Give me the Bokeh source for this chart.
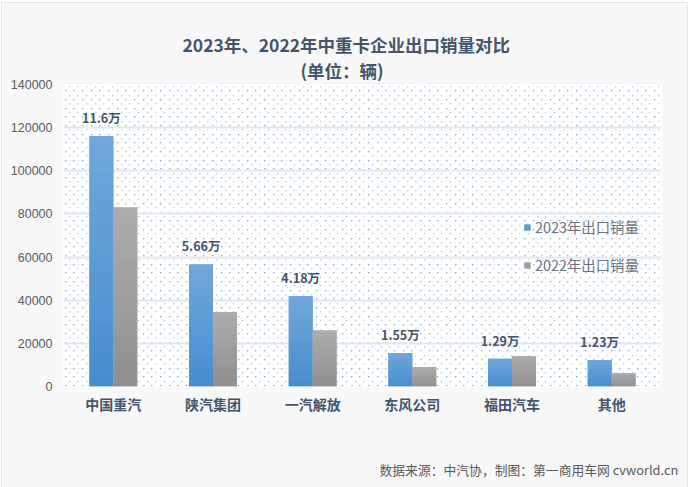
import base64, struct, zlib
from bokeh.core.properties import value
from bokeh.embed import file_html
from bokeh.resources import INLINE
from bokeh.plotting import figure
from bokeh.models import (BoxAnnotation, ColumnDataSource, FactorRange, ImageURLTexture,
                          LabelSet, Legend, LegendItem, Range1d, Title, FixedTicker)
from bokeh.transform import dodge

categories = ["中国重汽", "陕汽集团", "一汽解放", "东风公司", "福田汽车", "其他"]
series_2023 = [116000, 56600, 41800, 15500, 12900, 12300]
series_2022 = [83000, 34500, 26000, 9000, 14000, 6200]
labels_2023 = ["11.6万", "5.66万", "4.18万", "1.55万", "1.29万", "1.23万"]
y_ticks = [0, 20000, 40000, 60000, 80000, 100000, 120000, 140000]

CJK = "Noto Sans CJK SC"
W = 0.24

def dot_tile():
    size = 26
    px = [[(255, 255, 255, 0)] * size for _ in range(size)]
    rows = [1, 5, 9, 14, 18, 22]
    for r, y in enumerate(rows):
        strong = r % 2 == 0
        a0, a1 = (215, 90) if strong else (130, 55)
        for x in ([2, 11, 19] if r % 2 == 0 else [6, 15, 23]):
            px[y][x] = (105, 165, 228, a0)
            px[y][x + 1] = (105, 165, 228, a1)
            px[y + 1][x] = (105, 165, 228, a1)
    raw = b"".join(b"\x00" + bytes(c for p_ in row for c in p_) for row in px)
    def chunk(t, d):
        return struct.pack(">I", len(d)) + t + d + struct.pack(">I", zlib.crc32(t + d) & 0xffffffff)
    png = (b"\x89PNG\r\n\x1a\n" + chunk(b"IHDR", struct.pack(">IIBBBBB", size, size, 8, 6, 0, 0, 0))
           + chunk(b"IDAT", zlib.compress(raw)) + chunk(b"IEND", b""))
    return "data:image/png;base64," + base64.b64encode(png).decode()

p = figure(width=685, height=479, output_backend="svg", toolbar_location=None,
           x_range=FactorRange(factors=categories, range_padding=0),
           y_range=Range1d(0, 140000),
           frame_width=598, frame_height=302,
           min_border_left=61, min_border_right=26, min_border_top=81, min_border_bottom=96,
           background_fill_color="#ffffff", border_fill_color="#f8f8f8",
           outline_line_color=None)
p.styles = {"position": "absolute", "left": "2px", "top": "3px",
            "outline": "1.5px solid #dfe6ed"}

p.add_layout(BoxAnnotation(fill_alpha=0, line_alpha=0, hatch_pattern="tile",
                           hatch_extra={"tile": ImageURLTexture(url=dot_tile())},
                           hatch_color="#5b9bd5", level="image"))

p.add_layout(Title(text="(单位：辆)", align="left", offset=237, text_font=CJK,
                   text_font_size="17.5px", text_font_style="bold", text_color="#44546a",
                   text_line_height=0.85, standoff=3), "above")
p.add_layout(Title(text="2023年、2022年中重卡企业出口销量对比", align="left", offset=119, text_font=CJK,
                   text_font_size="17.5px", text_font_style="bold", text_color="#44546a",
                   standoff=-5), "above")
p.add_layout(Title(text="数据来源：中汽协，制图：第一商用车网 cvworld.cn", align="left", offset=316, text_font=CJK,
                   text_font_size="12.8px", text_font_style="normal", text_color="#595959",
                   standoff=83), "below")

p.grid.grid_line_color = None
p.ygrid.grid_line_color = "#e3e8ee"
p.ygrid.grid_line_width = 2
p.ygrid.level = "underlay"
p.ygrid.ticker = FixedTicker(ticks=y_ticks)
p.yaxis.ticker = FixedTicker(ticks=y_ticks)
p.yaxis.formatter.use_scientific = False
p.yaxis.major_label_text_font = "Liberation Sans"
p.yaxis.major_label_text_font_size = "12.5px"
p.yaxis.major_label_text_color = "#595959"
p.yaxis.axis_line_color = None
p.yaxis.major_tick_line_color = None
p.yaxis.major_tick_out = 0
p.yaxis.minor_tick_line_color = None
p.yaxis.major_label_standoff = 11
p.xaxis.axis_line_color = None
p.xaxis.major_tick_line_color = None
p.xaxis.major_tick_out = 0
p.xaxis.major_label_text_font = CJK
p.xaxis.major_label_text_font_size = "14px"
p.xaxis.major_label_text_font_style = "bold"
p.xaxis.major_label_text_color = "#44546a"
p.xaxis.major_label_standoff = 7
p.xaxis.major_label_orientation = "horizontal"

def shade(top, bottom, t):
    a = [int(top[i:i + 2], 16) for i in (1, 3, 5)]
    b = [int(bottom[i:i + 2], 16) for i in (1, 3, 5)]
    return "#%02x%02x%02x" % tuple(round(a[i] + (b[i] - a[i]) * t) for i in range(3))

def bars(values, offset, top, bottom):
    src = ColumnDataSource(dict(cat=categories, v=values))
    base = p.vbar(x=dodge("cat", offset, range=p.x_range), top="v", bottom=0, width=W, source=src,
                  fill_color=shade(top, bottom, 0.5), line_color=None)
    # vertical gradient overlay, sliced from each value
    n = 20
    for i in range(n):
        s = ColumnDataSource(dict(cat=categories,
                                  t=[v * (1 - i / n) for v in values],
                                  b=[v * (1 - (i + 1) / n) for v in values]))
        p.vbar(x=dodge("cat", offset, range=p.x_range), top="t", bottom="b", width=W, source=s,
               fill_color=shade(top, bottom, (i + 0.5) / n), line_color=None)
    return base, src

r23, s23 = bars(series_2023, -W / 2, "#72a7dc", "#478dce")
r22, s22 = bars(series_2022, W / 2, "#adadad", "#8f8f8f")

lab_src = ColumnDataSource(dict(cat=categories, v=series_2023, t=labels_2023))
p.add_layout(LabelSet(x=dodge("cat", -W / 2, range=p.x_range), y="v", text="t", source=lab_src,
                      y_offset=9, text_align="center", text_font=value(CJK),
                      text_font_size="12.5px", text_font_style="bold", text_color="#44546a"))

legend = Legend(items=[LegendItem(label="2023年出口销量", renderers=[r23]),
                       LegendItem(label="2022年出口销量", renderers=[r22])],
                location=(460, 111), orientation="vertical", background_fill_alpha=0,
                border_line_color=None, glyph_width=8, glyph_height=8, label_standoff=4,
                spacing=17, label_text_font=CJK, label_text_font_size="14.4px",
                label_text_color="#6b7480", margin=0, padding=0)
p.add_layout(legend)

open("out.html", "w").write(file_html(p, INLINE))
